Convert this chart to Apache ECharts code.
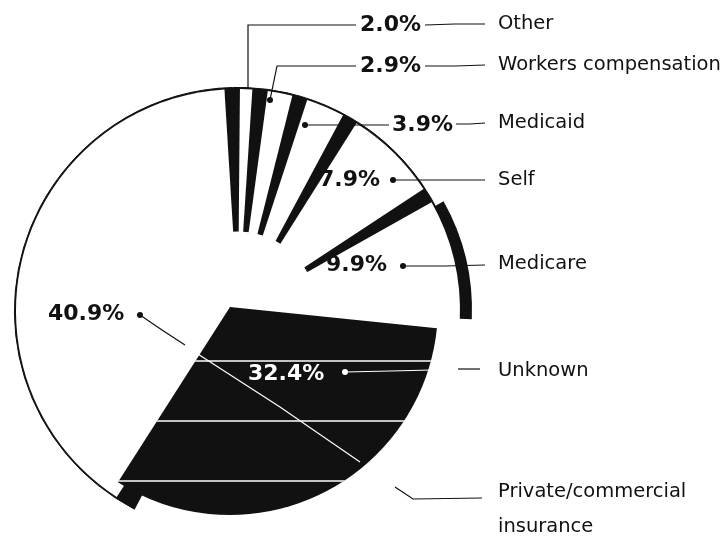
<!DOCTYPE html>
<html>
<head>
<meta charset="utf-8">
<script src="https://cdn.jsdelivr.net/npm/echarts@6/dist/echarts.min.js"></script>
<style>
  html, body { margin: 0; padding: 0; background: #fff; }
  #chart { width: 726px; height: 538px; }
</style>
</head>
<body>
<div id="chart"></div>
<script>
// data: share of visits by expected payer (%)
var categories = ['Other', 'Workers compensation', 'Medicaid', 'Self', 'Medicare', 'Unknown', 'Private/commercial\ninsurance'];
var shares = [2.0, 2.9, 3.9, 7.9, 9.9, 32.4, 40.9];

// text layout (px) - label positions and leader lines
var pctPos = [[360, 25], [360, 66], [392, 125], [319, 180], [326, 265], [248, 374], [48, 314]];
var pctLines = [
  [[248, 88], [248, 25], [356, 25]],
  [[270, 100], [277, 66], [356, 66]],
  [[305, 125], [347, 125], [389, 125]],
  null,
  null,
  null,
  [[140, 315], [162, 330], [185, 345]]
];
var namePos = [[498, 24], [498, 65], [498, 123], [498, 180], [498, 264], [498, 371], [498, 509]];
var nameLines = [
  [[425, 25], [455, 24], [485, 24]],
  [[425, 66], [455, 66], [485, 65]],
  [[456, 124], [470, 124], [485, 123]],
  [[393, 180], [440, 180], [485, 180]],
  [[403, 266], [445, 266], [485, 265]],
  [[345, 372], [390, 371], [432, 370]],
  [[395, 487], [413, 499], [482, 498]]
];
var dotPos = [null, [270, 100], [305, 125], [393, 180], [403, 266], [345, 372], [140, 315]];
var dotLines = [
  null, null, null, null, null,
  [[458, 369], [470, 369], [480, 369]],
  [[187, 347], [280, 407], [360, 462]]
];
var darkSlice = 5;   // Unknown is the filled (pulled out) slice
var sideWall = 4;    // Medicare shows its outer wall

var chartDom = document.getElementById('chart');
var myChart = echarts.init(chartDom);

var cx = 238, cy = 311, R = 222;
var ink = '#111';
var clear = 'rgba(0,0,0,0)';

function lineColor(i) { return i === darkSlice ? '#fff' : ink; }

function items(fn) {
  return categories.map(function (n, i) {
    var d = { name: n, value: shares[i] };
    fn(d, i);
    return d;
  });
}

var ringData = items(function (d, i) {
  var c = i === darkSlice ? clear : ink;
  d.itemStyle = { color: c, borderColor: c, borderWidth: 1 };
});
var wallData = items(function (d, i) {
  d.itemStyle = { color: i === sideWall ? ink : clear, borderWidth: 0 };
});
var frontData = items(function (d, i) {
  d.itemStyle = { color: i === darkSlice ? clear : '#fff', borderWidth: 0 };
});
var topData = items(function (d, i) {
  d.itemStyle = { color: i === darkSlice ? ink : clear, borderWidth: 0 };
  if (i === darkSlice) {
    // faint scan lines across the black slice
    d.itemStyle.decal = {
      symbol: 'rect',
      symbolSize: 1,
      color: 'rgba(255,255,255,0.75)',
      dashArrayX: [1, 0],
      dashArrayY: [2, 58]
    };
  }
  d.label = { color: i === darkSlice ? '#fff' : ink };
  d.labelLine = { show: !!pctLines[i] };
});
var nameData = items(function (d, i) {
  d.itemStyle = { color: clear, borderWidth: 0 };
  d.labelLine = { lineStyle: { color: lineColor(i) } };
});
var dotData = items(function (d, i) {
  d.itemStyle = { color: clear, borderWidth: 0 };
  d.label = { show: !!dotPos[i], backgroundColor: lineColor(i) };
  d.labelLine = { show: !!dotLines[i], lineStyle: { color: i === 6 ? '#fff' : ink } };
});

function pie(extra) {
  var s = {
    type: 'pie',
    silent: true,
    center: [cx, cy],
    radius: [0, R],
    startAngle: 91.5,
    clockwise: true,
    avoidLabelOverlap: false,
    label: { show: false },
    labelLine: { show: false }
  };
  for (var k in extra) s[k] = extra[k];
  return s;
}

var option = {
  backgroundColor: '#fff',
  animation: false,
  series: [
    // dark body behind the white slices, seen as walls in the gaps
    pie({ radius: [80, R + 1.6], startAngle: 95, data: ringData }),
    // outer wall of the Medicare slice
    pie({ center: [cx + 12, cy - 1], radius: [80, R], padAngle: 4, data: wallData }),
    // white slices
    pie({ padAngle: 4, data: frontData }),
    // pulled-out Unknown slice, with the percentage labels
    pie({
      center: [230, 307],
      radius: [0, 208],
      startAngle: 90,
      z: 3,
      label: {
        show: true,
        position: 'outside',
        formatter: function (p) { return p.value.toFixed(1) + '%'; },
        fontFamily: 'DejaVu Sans',
        fontWeight: 'bold',
        fontSize: 22
      },
      labelLine: { show: true, lineStyle: { color: ink, width: 1.2 } },
      labelLayout: function (p) {
        var i = p.dataIndex;
        var res = { x: pctPos[i][0], y: pctPos[i][1], align: 'left', verticalAlign: 'middle' };
        if (pctLines[i]) res.labelLinePoints = pctLines[i];
        return res;
      },
      data: topData
    }),
    // category names on the right
    pie({
      z: 4,
      label: {
        show: true,
        position: 'outside',
        formatter: '{b}',
        fontFamily: 'DejaVu Sans',
        fontSize: 19.5,
        lineHeight: 35,
        color: ink
      },
      labelLine: { show: true, lineStyle: { width: 1.2 } },
      labelLayout: function (p) {
        var i = p.dataIndex;
        return {
          x: namePos[i][0], y: namePos[i][1], align: 'left', verticalAlign: 'middle',
          labelLinePoints: nameLines[i]
        };
      },
      data: nameData
    }),
    // pointer dots
    pie({
      z: 4,
      label: {
        show: true,
        position: 'outside',
        formatter: ' ',
        fontSize: 4,
        width: 6,
        height: 6,
        padding: 0,
        borderRadius: 3
      },
      labelLine: { show: true, lineStyle: { width: 1.2 } },
      labelLayout: function (p) {
        var i = p.dataIndex;
        var pos = dotPos[i] || [0, 0];
        var res = { x: pos[0], y: pos[1], align: 'center', verticalAlign: 'middle' };
        if (dotLines[i]) res.labelLinePoints = dotLines[i];
        return res;
      },
      data: dotData
    })
  ]
};

option && myChart.setOption(option);
</script>
</body>
</html>
